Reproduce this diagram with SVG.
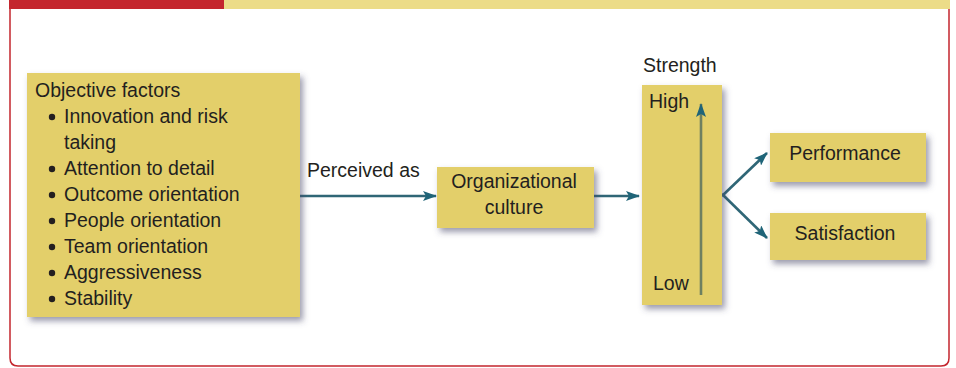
<svg xmlns="http://www.w3.org/2000/svg" width="956" height="368" viewBox="0 0 956 368">
<defs>
<style>
.box{fill:#e3cf6a;filter:url(#sh)}
.t{font-family:"Liberation Sans",Arial,sans-serif;font-size:19.5px;fill:#231f20}
.c{text-anchor:middle}
.ln{stroke:#2f6676;stroke-width:2.6;fill:none}
</style>
<filter id="sh" x="-10%" y="-10%" width="130%" height="140%">
<feDropShadow dx="3" dy="4" stdDeviation="3" flood-color="#4a4a6a" flood-opacity="0.55"/>
</filter>
<marker id="ah" viewBox="0 0 14 10" refX="13" refY="5" markerWidth="14" markerHeight="10" markerUnits="userSpaceOnUse" orient="auto">
<path d="M0,0 L14,5 L0,10 L3,5 Z" fill="#1f6478"/>
</marker>
</defs>
<rect width="956" height="368" fill="#ffffff"/>
<rect x="9" y="0" width="215" height="9" fill="#c4262e"/>
<rect x="224" y="0" width="726" height="9" fill="#ecdc88"/>
<path d="M10,9 V358 Q10,366 18,366 H941 Q949,366 949,358 V9" fill="none" stroke="#c4262e" stroke-width="1.5"/>

<g id="connectors">
<line class="ln" x1="300" y1="196" x2="436" y2="196" marker-end="url(#ah)"/>
<line class="ln" x1="594" y1="196" x2="639" y2="196" marker-end="url(#ah)"/>
<line class="ln" x1="722" y1="196" x2="767" y2="153" marker-end="url(#ah)"/>
<line class="ln" x1="722" y1="194" x2="767" y2="238" marker-end="url(#ah)"/>
</g>

<g id="objective-factors">
<rect class="box" x="27" y="73" width="273" height="244"/>
<text class="t" x="35" y="97">Objective factors</text>
<g class="t">
<circle cx="52" cy="117" r="3.2" fill="#231f20"/>
<text class="t" x="64" y="123">Innovation and risk</text>
<text class="t" x="64" y="149">taking</text>
<circle cx="52" cy="169" r="3.2" fill="#231f20"/>
<text class="t" x="64" y="175">Attention to detail</text>
<circle cx="52" cy="195" r="3.2" fill="#231f20"/>
<text class="t" x="64" y="201">Outcome orientation</text>
<circle cx="52" cy="221" r="3.2" fill="#231f20"/>
<text class="t" x="64" y="227">People orientation</text>
<circle cx="52" cy="247" r="3.2" fill="#231f20"/>
<text class="t" x="64" y="253">Team orientation</text>
<circle cx="52" cy="273" r="3.2" fill="#231f20"/>
<text class="t" x="64" y="279">Aggressiveness</text>
<circle cx="52" cy="299" r="3.2" fill="#231f20"/>
<text class="t" x="64" y="305">Stability</text>
</g>
</g>

<text id="label-perceived" class="t" x="307" y="177">Perceived as</text>

<g id="organizational-culture">
<rect class="box" x="437" y="167" width="157" height="61"/>
<text class="t c" x="514" y="188">Organizational</text>
<text class="t c" x="514" y="214">culture</text>
</g>

<g id="strength">
<text class="t" x="643" y="72">Strength</text>
<rect class="box" x="642" y="85" width="80" height="220"/>
<text class="t" x="649" y="108">High</text>
<text class="t" x="653" y="290">Low</text>
<line x1="701" y1="295" x2="701" y2="104" stroke="#6e8060" stroke-width="2.6" marker-end="url(#ah)"/>
</g>

<g id="performance">
<rect class="box" x="770" y="133" width="156" height="49"/>
<text class="t c" x="845" y="160">Performance</text>
</g>

<g id="satisfaction">
<rect class="box" x="770" y="213" width="156" height="47"/>
<text class="t c" x="845" y="240">Satisfaction</text>
</g>
</svg>
